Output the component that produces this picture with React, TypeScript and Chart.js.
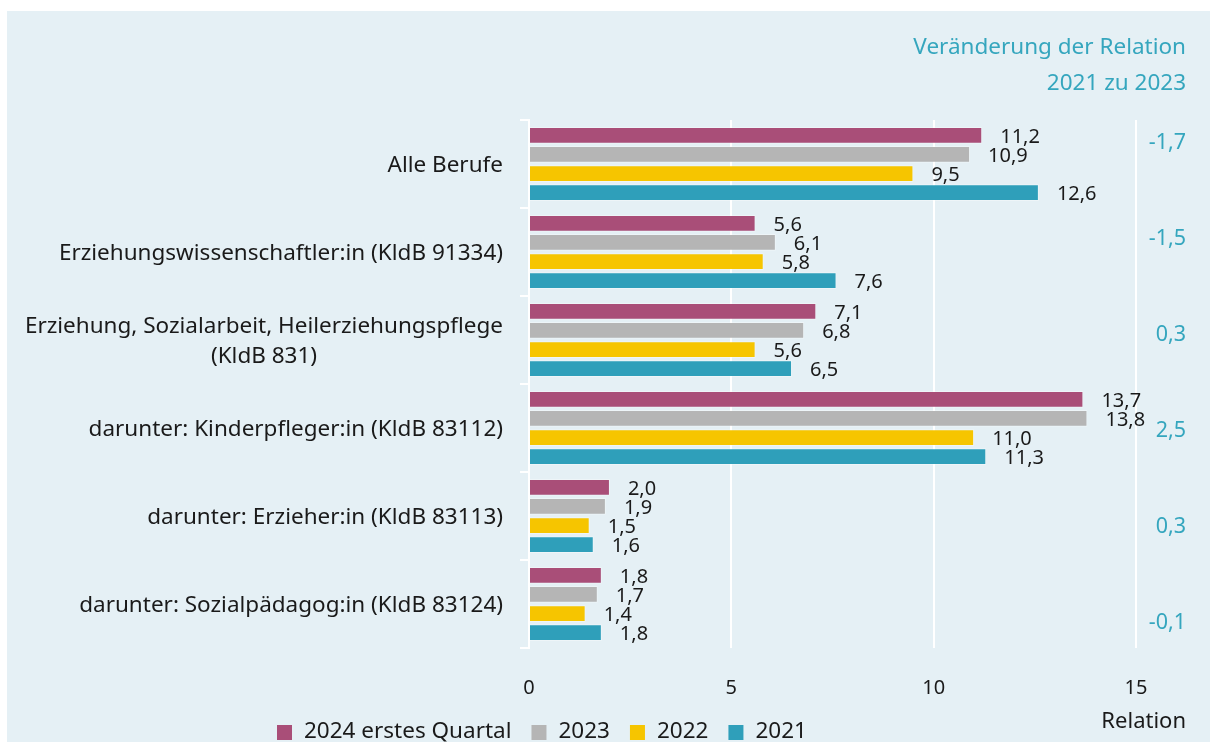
import React, { useEffect, useRef } from "react";
import { Chart, registerables } from "chart.js";

Chart.register(...registerables);

const categories: string[][] = [
  ["Alle Berufe"],
  ["Erziehungswissenschaftler:in (KldB 91334)"],
  ["Erziehung, Sozialarbeit, Heilerziehungspflege", "(KldB 831)"],
  ["darunter: Kinderpfleger:in (KldB 83112)"],
  ["darunter: Erzieher:in (KldB 83113)"],
  ["darunter: Sozialpädagog:in (KldB 83124)"],
];

const seriesLabels = ["2024 erstes Quartal", "2023", "2022", "2021"];
const q2024 = [11.2, 5.6, 7.1, 13.7, 2.0, 1.8];
const y2023 = [10.9, 6.1, 6.8, 13.8, 1.9, 1.7];
const y2022 = [9.5, 5.8, 5.6, 11.0, 1.5, 1.4];
const y2021 = [12.6, 7.6, 6.5, 11.3, 1.6, 1.8];
const changeValues = [-1.7, -1.5, 0.3, 2.5, 0.3, -0.1];
const xTicks = [0, 5, 10, 15];

const seriesColors = ["#a94e78", "#b5b5b5", "#f6c500", "#2f9fba"];
const TEAL_TEXT = "#35a6be";
const TEXT = "#1a1a1a";
const FONT = "'Noto Sans', sans-serif";

const fmt = (v: number) => v.toFixed(1).replace(".", ",");

const overlayPlugin = {
  id: "overlay",
  afterDatasetsDraw(chart: any) {
    const ctx = chart.ctx as CanvasRenderingContext2D;
    const area = chart.chartArea;
    const yScale = chart.scales.y;
    ctx.save();

    // value labels
    ctx.font = `20px ${FONT}`;
    ctx.fillStyle = TEXT;
    ctx.textAlign = "left";
    ctx.textBaseline = "middle";
    chart.data.datasets.forEach((ds: any, di: number) => {
      const meta = chart.getDatasetMeta(di);
      meta.data.forEach((el: any, i: number) => {
        ctx.fillText(fmt(ds.data[i]), el.x + 18, el.y + 2);
      });
    });

    // category labels
    ctx.font = `22.5px ${FONT}`;
    ctx.fillStyle = TEXT;
    const labelRight = area.left - 26;
    categories.forEach((lines, i) => {
      const cy = yScale.getPixelForValue(i);
      const lh = 30;
      const startY = cy - ((lines.length - 1) * lh) / 2 + 2;
      if (lines.length === 1) {
        ctx.textAlign = "right";
        ctx.fillText(lines[0], labelRight, startY);
      } else {
        const maxW = Math.max(...lines.map((l) => ctx.measureText(l).width));
        ctx.textAlign = "center";
        lines.forEach((l, li) => {
          ctx.fillText(l, labelRight - maxW / 2, startY + li * lh);
        });
      }
    });

    // change column
    const rightX = chart.width - 24;
    ctx.font = `21.5px ${FONT}`;
    ctx.fillStyle = TEAL_TEXT;
    ctx.textAlign = "right";
    changeValues.forEach((v, i) => {
      const cy = yScale.getPixelForValue(i) + (i * 8 - 21);
      ctx.fillText(fmt(v), rightX, cy);
    });

    // header
    ctx.font = `22.5px ${FONT}`;
    ctx.fillText("Veränderung der Relation", rightX, 37);
    ctx.fillText("2021 zu 2023", rightX, 73);

    // axis title
    ctx.font = `22px ${FONT}`;
    ctx.fillStyle = TEXT;
    ctx.fillText("Relation", rightX, 711);

    // legend
    ctx.font = `22.5px ${FONT}`;
    ctx.textAlign = "left";
    let x = 270;
    const ly = 721;
    seriesLabels.forEach((lab, i) => {
      ctx.fillStyle = seriesColors[i];
      ctx.fillRect(x, ly - 7, 15, 15);
      x += 15 + 12;
      ctx.fillStyle = TEXT;
      ctx.fillText(lab, x, ly);
      x += ctx.measureText(lab).width + 20;
    });

    ctx.restore();
  },
};

export default function App() {
  const ref = useRef<HTMLCanvasElement | null>(null);
  useEffect(() => {
    if (!ref.current) return;
    Chart.defaults.font.family = FONT;
    const all = [q2024, y2023, y2022, y2021];
    const chart = new Chart(ref.current, {
      type: "bar",
      data: {
        labels: categories.map((c) => c.join(" ")),
        datasets: all.map((d, i) => ({
          label: seriesLabels[i],
          data: d,
          backgroundColor: seriesColors[i],
          borderColor: "rgba(255,255,255,0.35)",
          borderWidth: 1,
          categoryPercentage: 0.865,
          barPercentage: 0.88,
        })),
      },
      options: {
        indexAxis: "y",
        responsive: true,
        maintainAspectRatio: false,
        animation: false,
        layout: { padding: { top: 109, right: 74, left: 0, bottom: 0 } },
        plugins: {
          legend: { display: false },
          tooltip: { enabled: false },
        },
        scales: {
          x: {
            type: "linear",
            min: xTicks[0],
            max: xTicks[xTicks.length - 1],
            afterBuildTicks: (s: any) => {
              s.ticks = xTicks.map((v) => ({ value: v }));
            },
            ticks: {
              font: { size: 20, family: FONT },
              color: TEXT,
              padding: 28,
              callback: (v: any) => String(v),
            },
            grid: { color: "#ffffff", lineWidth: 2, drawTicks: false },
            border: { display: false },
            afterFit: (s: any) => {
              s.height = 94;
            },
          },
          y: {
            type: "category",
            ticks: { display: false },
            grid: {
              drawOnChartArea: false,
              drawTicks: true,
              tickLength: 9,
              color: "#ffffff",
              lineWidth: 2,
              offset: true,
            },
            border: { display: true, color: "#ffffff", width: 2 },
            afterFit: (s: any) => {
              s.width = 522;
            },
          },
        },
      } as any,
      plugins: [overlayPlugin],
    });
    return () => chart.destroy();
  }, []);

  return (
    <div
      style={{
        position: "fixed",
        left: 7,
        top: 11,
        width: 1203,
        height: 731,
        background: "#e5f0f5",
      }}
    >
      <canvas ref={ref} style={{ display: "block", width: "100%", height: "100%" }} />
    </div>
  );
}
